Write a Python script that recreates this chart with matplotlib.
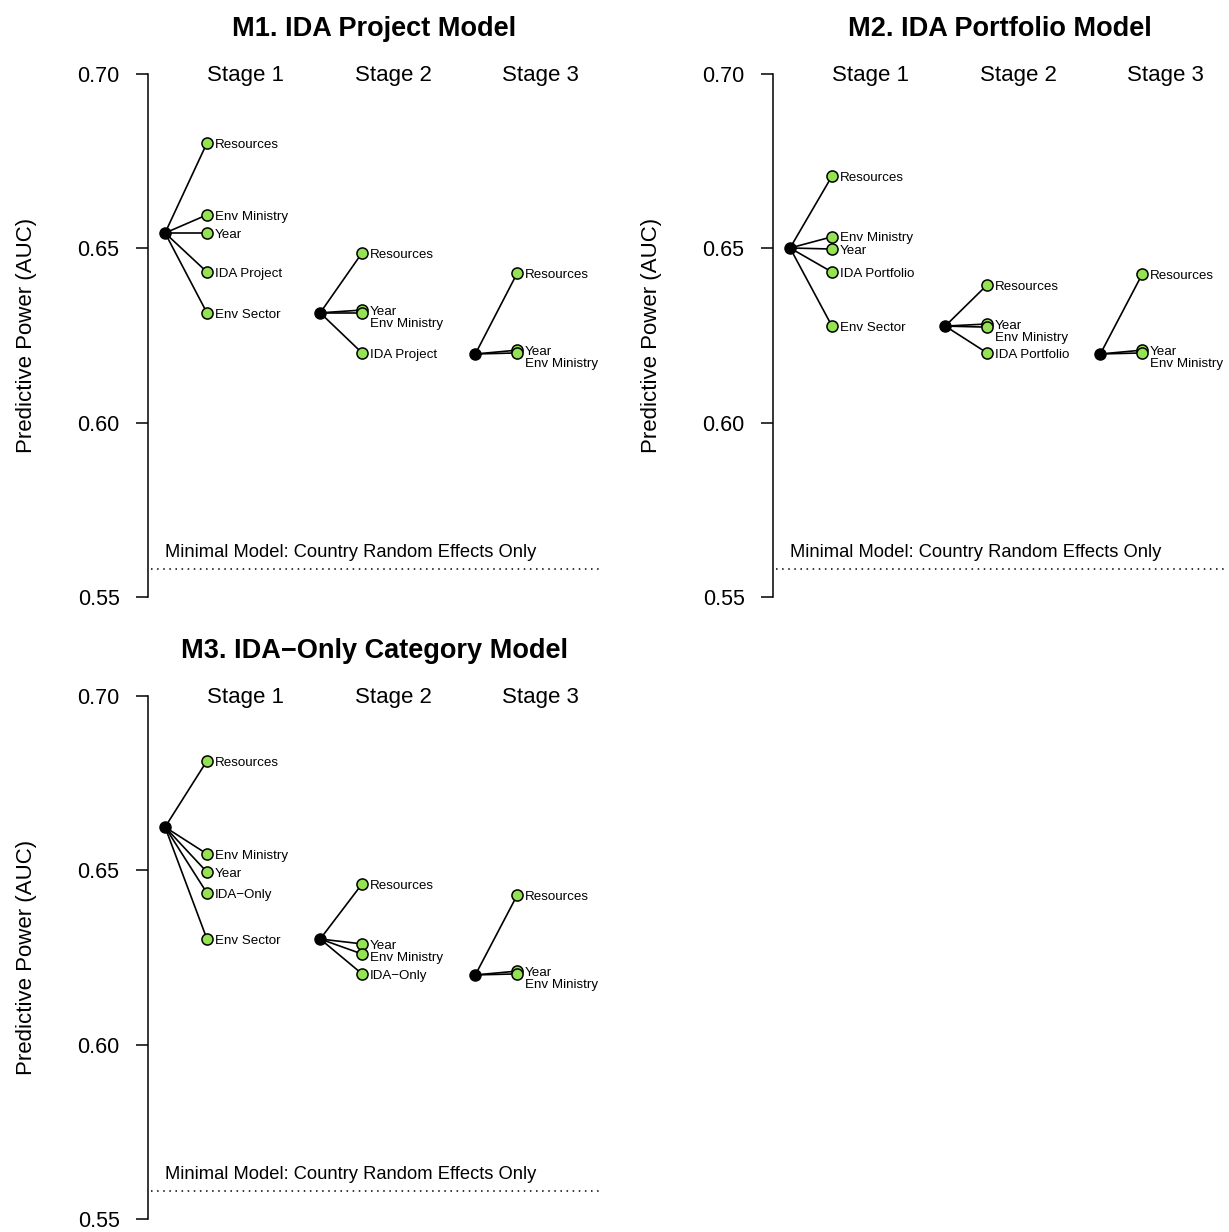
import numpy as np
import matplotlib.pyplot as plt

plt.rcParams['font.family'] = ['Liberation Sans', 'DejaVu Sans']

# Datos (AUC)
titulos = ['M1. IDA Project Model', 'M2. IDA Portfolio Model', 'M3. IDA\u2212Only Category Model']
etapas = ['Stage 1', 'Stage 2', 'Stage 3']
minimo = 0.558  # Minimal Model: Country Random Effects Only

m1_base = [0.6544, 0.6315, 0.6197]
m1_nombres = [['Resources', 'Env Ministry', 'Year', 'IDA Project', 'Env Sector'],
              ['Resources', 'Year', 'Env Ministry', 'IDA Project'],
              ['Resources', 'Year', 'Env Ministry']]
m1_vals = [[0.6802, 0.6596, 0.6544, 0.6432, 0.6315],
           [0.6487, 0.6323, 0.6315, 0.6200],
           [0.6429, 0.6208, 0.6200]]

m2_base = [0.6501, 0.6277, 0.6197]
m2_nombres = [['Resources', 'Env Ministry', 'Year', 'IDA Portfolio', 'Env Sector'],
              ['Resources', 'Year', 'Env Ministry', 'IDA Portfolio'],
              ['Resources', 'Year', 'Env Ministry']]
m2_vals = [[0.6707, 0.6533, 0.6498, 0.6432, 0.6277],
           [0.6395, 0.6283, 0.6274, 0.6200],
           [0.6426, 0.6208, 0.6200]]

m3_base = [0.6624, 0.6303, 0.6200]
m3_nombres = [['Resources', 'Env Ministry', 'Year', 'IDA\u2212Only', 'Env Sector'],
              ['Resources', 'Year', 'Env Ministry', 'IDA\u2212Only'],
              ['Resources', 'Year', 'Env Ministry']]
m3_vals = [[0.6814, 0.6547, 0.6495, 0.6435, 0.6303],
           [0.6461, 0.6289, 0.6260, 0.6203],
           [0.6429, 0.6211, 0.6203]]

modelos = [(m1_base, m1_nombres, m1_vals),
           (m2_base, m2_nombres, m2_vals),
           (m3_base, m3_nombres, m3_vals)]

#%% GRAFICAR
W, H = 1229, 1232
fig = plt.figure(figsize=(W / 100, H / 100), dpi=100)

# (x izq, y de 0.70) en pixeles
origenes = [(148, 74), (773, 74), (148, 696)]
ancho, alto = 453, 523
verde = '#95E352'
dx = 0.27          # separacion base -> hijos
sep_min = 0.0036   # separacion minima entre etiquetas

for (px, py), titulo, (base, nombres, vals) in zip(origenes, titulos, modelos):
    ax = fig.add_axes([px / W, 1 - (py + alto) / H, ancho / W, alto / H])
    ax.set_xlim(0.89, 3.81)
    ax.set_ylim(0.55, 0.70)
    for s in ['top', 'right', 'bottom']:
        ax.spines[s].set_visible(False)
    ax.spines['left'].set_linewidth(1.1)
    ax.spines['left'].set_bounds(0.55, 0.70)
    ax.set_xticks([])
    ax.set_yticks([0.55, 0.60, 0.65, 0.70])
    ax.set_yticklabels(['0.55', '0.60', '0.65', '0.70'])
    ax.tick_params(axis='y', length=8.5, width=1.1, pad=12, labelsize=15.5)
    ax.set_ylabel('Predictive Power (AUC)', fontsize=16)
    ax.yaxis.set_label_coords(-0.245, 0.5)

    ax.text(0.5, 1.086, titulo, transform=ax.transAxes, ha='center', va='center',
            fontsize=19.5, fontweight='bold')

    for k in range(3):
        x0 = k + 1
        ax.annotate(etapas[k], ([1.52, 2.47, 3.42][k], 0.70), xytext=(0, -1.3),
                    textcoords='offset points', ha='center', va='center', fontsize=16)
        y0 = base[k]
        for v in vals[k]:
            ax.plot([x0, x0 + dx], [y0, v], c='k', lw=1.2, zorder=1)
        ax.plot([x0 + dx] * len(vals[k]), vals[k], 'o', ms=8, mfc=verde, mec='k',
                mew=1.1, zorder=3, ls='none')
        ax.plot(x0, y0, 'o', ms=8, c='k', zorder=4)
        # etiquetas, empujando hacia abajo si se solapan
        orden = np.argsort(vals[k])[::-1]
        ult = None
        for i in orden:
            ye = vals[k][i]
            if ult is not None and ult - ye < sep_min:
                ye = ult - sep_min
            ult = ye
            ax.annotate(nombres[k][i], (x0 + dx, ye), xytext=(5.5, -1.2),
                        textcoords='offset points', ha='left', va='center', fontsize=9.6)

    ax.plot([0.91, 3.81], [minimo, minimo], c='k', lw=1.1, ls=(0, (1, 3)))
    ax.annotate('Minimal Model: Country Random Effects Only', (1.0, minimo),
                xytext=(0, 6), textcoords='offset points', ha='left', va='bottom',
                fontsize=13.2)

plt.savefig('out.png', dpi=100)
